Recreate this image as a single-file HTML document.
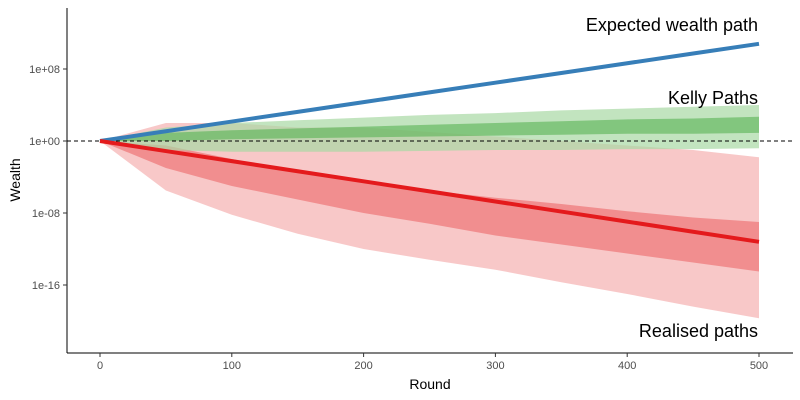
<!DOCTYPE html>
<html><head><meta charset="utf-8"><style>
body{margin:0;background:#fff}
svg{display:block;font-family:"Liberation Sans",Arial,sans-serif}
</style></head><body>
<svg id="chart" width="800" height="400">
<g id="plot"></g>
<g id="axes"></g>
</svg>
<script>
const rounds=[0,50,100,150,200,250,300,350,400,450,500];
const redUpper=[0,2,2,1.5,1.5,1,0.5,0,-0.5,-1,-1.8];
const redLower=[0,-5.5,-8.2,-10.3,-12,-13.2,-14.3,-15.7,-17,-18.4,-19.7];
const redInnerUpper=[0,-0.5,-2,-3.5,-4.5,-5.5,-6.3,-7,-7.8,-8.5,-9];
const redInnerLower=[0,-3,-5,-6.5,-8,-9.2,-10.5,-11.5,-12.5,-13.5,-14.5];
const greenUpper=[0,1.5,2,2.3,2.6,2.9,3.1,3.4,3.6,3.8,4];
const greenLower=[0,-1,-1.2,-1.2,-1.2,-1.1,-1,-1,-0.9,-0.9,-0.8];
const greenInnerUpper=[0,0.9,1.2,1.4,1.6,1.8,2,2.2,2.4,2.5,2.7];
const greenInnerLower=[0,0,0.2,0.3,0.4,0.5,0.6,0.7,0.8,0.8,0.9];
const realisedMedian=[0,-1.12,-2.24,-3.36,-4.48,-5.6,-6.72,-7.84,-8.96,-10.08,-11.2];
const expectedPath=[0,1.08,2.16,3.24,4.32,5.4,6.48,7.56,8.64,9.72,10.8];
const xTicks=[0,100,200,300,400,500];
const yTicks=[8,0,-8,-16];
const yTickLabels=["1e+08","1e+00","1e-08","1e-16"];

const NS="http://www.w3.org/2000/svg";
const X=r=>100+r*(659/500);
const Y=v=>141-9*v;
const plot=document.getElementById('plot'), axes=document.getElementById('axes');
function mk(tag,attrs,parent){const e=document.createElementNS(NS,tag);for(const k in attrs)e.setAttribute(k,attrs[k]);parent.appendChild(e);return e;}
function band(up,lo,fill,op,name){
  let d=rounds.map((r,i)=>(i?'L':'M')+X(r)+','+Y(up[i])).join('')+
        rounds.slice().reverse().map((r,j)=>'L'+X(r)+','+Y(lo[rounds.length-1-j])).join('')+'Z';
  const p=mk('path',{d:d,fill:fill,'fill-opacity':op},plot);
  
  
}
function line(vals,stroke,w,name){
  const d=rounds.map((r,i)=>(i?'L':'M')+X(r)+','+Y(vals[i])).join('');
  const p=mk('path',{d:d,fill:'none',stroke:stroke,'stroke-width':w},plot);
  
  
}
band(redUpper,redLower,'#f39a9a',0.55,'realised-paths-envelope');
band(redInnerUpper,redInnerLower,'#e8474a',0.45,'realised-paths-core');
band(greenUpper,greenLower,'#a8d8a4',0.7,'kelly-paths-envelope');
band(greenInnerUpper,greenInnerLower,'#5fb65b',0.65,'kelly-paths-core');
const ref=mk('line',{x1:67,x2:793,y1:Y(0),y2:Y(0),stroke:'#000','stroke-dasharray':'4,3','stroke-width':1},plot);


line(expectedPath,'#377eb8',4,'expected-wealth-line');
line(realisedMedian,'#e41a1c',4,'realised-median-line');

function txt(s,x,y,attrs,name,parent){const t=mk('text',Object.assign({x:x,y:y},attrs),parent||axes);t.textContent=s;
  
  return t;}
txt('Expected wealth path',758,31,{'font-size':18,'text-anchor':'end',fill:'#000'},'expected-wealth-label',plot);
txt('Kelly Paths',758,104,{'font-size':18,'text-anchor':'end',fill:'#000'},'kelly-paths-label',plot);
txt('Realised paths',758,337,{'font-size':18,'text-anchor':'end',fill:'#000'},'realised-paths-label',plot);

mk('line',{x1:67,x2:67,y1:8,y2:353,stroke:'#000','stroke-width':1},axes);
mk('line',{x1:67,x2:793,y1:353,y2:353,stroke:'#000','stroke-width':1},axes);
xTicks.forEach(t=>{
  mk('line',{x1:X(t),x2:X(t),y1:353,y2:357,stroke:'#333'},axes);
  txt(String(t),X(t),369,{'font-size':11,'text-anchor':'middle',fill:'#4d4d4d'},'x-tick-label');
});
yTicks.forEach((t,i)=>{
  mk('line',{x1:63,x2:67,y1:Y(t),y2:Y(t),stroke:'#333'},axes);
  txt(yTickLabels[i],60,Y(t)+4,{'font-size':11,'text-anchor':'end',fill:'#4d4d4d'},'y-tick-label');
});
txt('Round',430,389,{'font-size':14,'text-anchor':'middle',fill:'#000'},'x-axis-title');
txt('Wealth',20,180,{'font-size':14,'text-anchor':'middle',fill:'#000',transform:'rotate(-90 20 180)'},'y-axis-title');
</script>
</body></html>
